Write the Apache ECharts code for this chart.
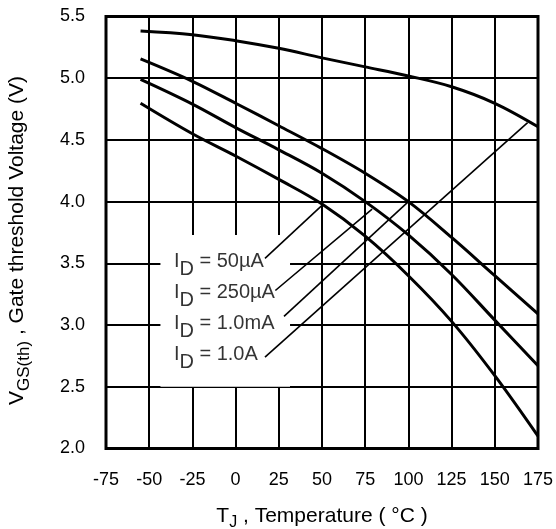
<!DOCTYPE html>
<html>
<head>
<meta charset="utf-8">
<script src="https://cdn.jsdelivr.net/npm/echarts@6/dist/echarts.min.js"></script>
<style>
  html, body { margin: 0; padding: 0; background: #fff; }
  #chart { width: 556px; height: 529px; }
</style>
</head>
<body>
<div id="chart"></div>
<script>
// junction temperature (°C)
const temps = [-55, -25, 0, 25, 50, 75, 100, 125, 150, 175];
// gate threshold voltage (V) per drain current
const vth1A = [5.383, 5.353, 5.304, 5.242, 5.165, 5.092, 5.018, 4.931, 4.797, 4.607];
const vth1mA = [5.156, 4.975, 4.797, 4.615, 4.43, 4.23, 4.0, 3.71, 3.40, 3.09];
const vth250uA = [4.99, 4.79, 4.60, 4.42, 4.23, 4.0, 3.73, 3.41, 3.04, 2.67];
const vth50uA = [4.797, 4.55, 4.37, 4.18, 3.98, 3.72, 3.40, 3.03, 2.59, 2.10];

// labels, where they sit, and their leader lines [T, V]
const labelText = ['50µA', '250µA', '1.0mA', '1.0A'];
const labelAt = [[-36, 3.54], [-36, 3.29], [-36, 3.04], [-36, 2.79]];
const leaderFrom = [[17, 3.54], [23, 3.28], [28, 3.07], [17, 2.74]];
const leaderTo = [[50, 3.97], [79, 3.94], [100, 4.0], [169, 4.64]];

const xTicks = { min: -75, max: 175, step: 25 };
const yTicks = { min: 2.0, max: 5.5, step: 0.5 };

const myChart = echarts.init(document.getElementById('chart'));

const font = 'Liberation Sans, Arial, Helvetica, sans-serif';
const sub = (size, shift) => ({ fontSize: size, fontFamily: font, color: '#000', verticalAlign: 'top', padding: [shift, 0, 0, 0] });
const norm = (size) => ({ fontSize: size, fontFamily: font, color: '#000', verticalAlign: 'top' });

const curve = (vals) => ({
  type: 'line',
  data: temps.map((t, i) => [t, vals[i]]),
  smooth: 0.35,
  showSymbol: false,
  lineStyle: { color: '#000', width: 3 },
  z: 3
});

const leaders = labelText.map((txt, i) => ({
  type: 'line',
  data: [leaderFrom[i], leaderTo[i]],
  showSymbol: false,
  lineStyle: { color: '#000', width: 1.6 },
  z: 4
}));

const labels = {
  type: 'scatter',
  data: labelText.map((txt, i) => ({ value: labelAt[i], name: txt })),
  symbol: 'circle',
  symbolSize: 1,
  itemStyle: { color: 'rgba(0,0,0,0)' },
  z: 5,
  silent: true,
  label: {
    show: true,
    position: 'right',
    distance: 0,
    offset: [0, 7],
    formatter: p => '{n|I}{s|D}{n| = ' + p.name + '}',
    rich: { n: norm(20), s: sub(20, 8) }
  },
  markArea: {
    silent: true,
    itemStyle: { color: '#fff' },
    data: [[{ coord: [-43.5, 3.73] }, { coord: [31.5, 2.5] }]]
  }
};

const option = {
  animation: false,
  backgroundColor: '#fff',
  grid: {
    left: 106, right: 18, top: 16.5, bottom: 80.5,
    outerBoundsMode: 'none',
    show: true, borderColor: '#000', borderWidth: 3, backgroundColor: 'transparent'
  },
  xAxis: {
    type: 'value',
    min: xTicks.min, max: xTicks.max, interval: xTicks.step,
    axisLine: { show: false },
    axisTick: { show: false },
    splitLine: { show: true, lineStyle: { color: '#000', width: 2 } },
    axisLabel: { color: '#000', fontSize: 18, fontFamily: font, margin: 23 },
    name: '{n|T}{s|J}{n| , Temperature ( °C )}',
    nameLocation: 'middle',
    nameGap: 57,
    nameTextStyle: { rich: { n: norm(21), s: sub(16, 9) } }
  },
  yAxis: {
    type: 'value',
    min: yTicks.min, max: yTicks.max, interval: yTicks.step,
    axisLine: { show: false },
    axisTick: { show: false },
    splitLine: { show: true, lineStyle: { color: '#000', width: 2 } },
    axisLabel: { color: '#000', fontSize: 18, fontFamily: font, margin: 21, formatter: v => v.toFixed(1) },
    name: '{n|V}{s|GS(th)}{n| , Gate threshold Voltage (V)}',
    nameLocation: 'middle',
    nameGap: 73,
    nameRotate: 90,
    nameTextStyle: { padding: [0, 16, 0, 0], rich: { n: norm(21), s: sub(17, 9) } }
  },
  series: [
    curve(vth1A),
    curve(vth1mA),
    curve(vth250uA),
    curve(vth50uA),
    ...leaders,
    labels
  ]
};

myChart.setOption(option);
</script>
</body>
</html>
